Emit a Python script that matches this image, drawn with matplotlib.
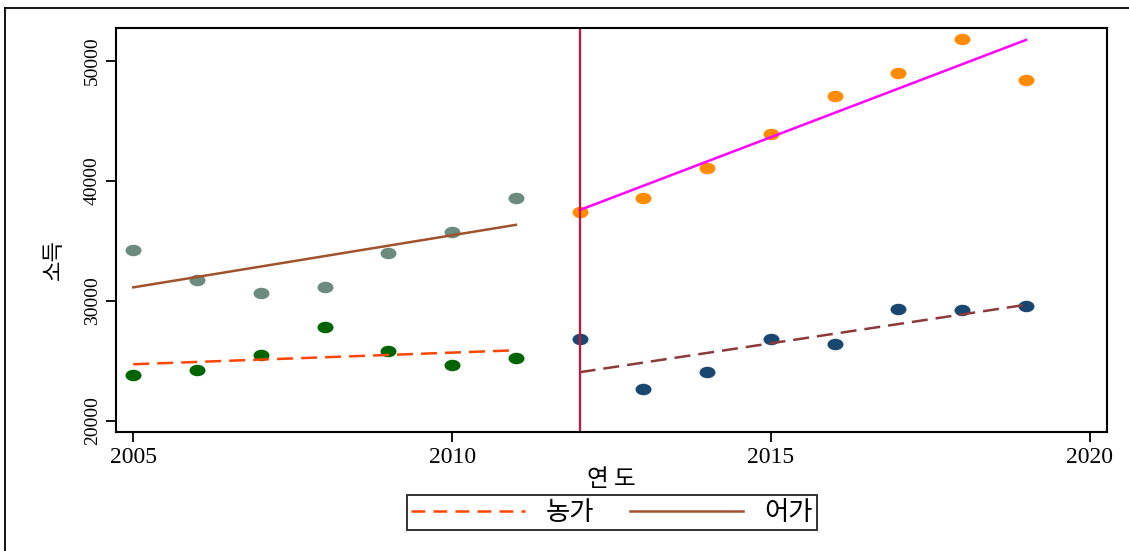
import numpy as np
import matplotlib.pyplot as plt
from matplotlib.path import Path
from matplotlib.transforms import Affine2D
from matplotlib.lines import Line2D

# yearly income, split at the 2012 cutoff
years_pre = [2005, 2006, 2007, 2008, 2009, 2010, 2011]
years_post = [2012, 2013, 2014, 2015, 2016, 2017, 2018, 2019]

fish_pre = [34250, 31750, 30670, 31170, 34000, 35750, 38580]
farm_pre = [23830, 24250, 25500, 27830, 25830, 24670, 25250]
fish_post = [37420, 38580, 41080, 43920, 47080, 49000, 51830, 48420]
farm_post = [26830, 22670, 24080, 26830, 26420, 29330, 29250, 29580]

cutoff = 2012
xticks = [2005, 2010, 2015, 2020]
yticks = [20000, 30000, 40000, 50000]

kr = 'Noto Sans CJK KR'
serif = 'Liberation Serif'

# slightly flattened dots
ellipse = Path.unit_circle().transformed(Affine2D().scale(1.0, 0.72))

fig = plt.figure(figsize=(11.29, 5.51), dpi=100)
ax = fig.add_axes([116 / 1129, 1 - 432 / 551, 991 / 1129, 404 / 551])

ax.plot(years_pre, fish_pre, ls='none', marker=ellipse, ms=11.5, color='#6c8a7e', mec='none')
ax.plot(years_pre, farm_pre, ls='none', marker=ellipse, ms=11.5, color='#006400', mec='none')
ax.plot(years_post, fish_post, ls='none', marker=ellipse, ms=11.5, color='#ff8c00', mec='none')
ax.plot(years_post, farm_post, ls='none', marker=ellipse, ms=11.5, color='#1a476f', mec='none')


def fit(x, y):
    x = np.asarray(x, dtype=float)
    b, a = np.polyfit(x, y, 1)
    ends = np.array([x.min(), x.max()])
    return ends, a + b * ends


lw = 1.8
x, y = fit(years_pre, farm_pre)
ax.plot(x, y, color='#ff4500', lw=lw, dashes=(6.4, 3.2))
x, y = fit(years_pre, fish_pre)
ax.plot(x, y, color='#a0522d', lw=lw)
x, y = fit(years_post, fish_post)
ax.plot(x, y, color='#ff00ff', lw=lw)
x, y = fit(years_post, farm_post)
ax.plot(x, y, color='#8b3a3a', lw=lw, dashes=(6.4, 3.2))

ax.axvline(cutoff, color='#c8143c', lw=1.6)

ax.set_xlim(2004.73, 2020.27)
ax.set_ylim(19080, 52750)
ax.set_xticks(xticks)
ax.set_yticks(yticks)
ax.set_xticklabels([str(t) for t in xticks], family=serif, fontsize=17)
ax.set_yticklabels([str(t) for t in yticks], family=serif, fontsize=14,
                   rotation=90, va='center')
ax.tick_params(direction='out', length=7, width=1.3, colors='black', pad=4)
for s in ax.spines.values():
    s.set_linewidth(1.5)

ax.set_xlabel('연 도', family=kr, fontsize=17, labelpad=0)
ax.set_ylabel('소득', family=kr, fontsize=16)
ax.yaxis.set_label_coords(-0.052, 0.426)

handles = [Line2D([], [], color='#ff4500', lw=lw, dashes=(5.5, 3.3)),
           Line2D([], [], color='#a0522d', lw=lw)]
leg = fig.legend(handles, ['농가', '어가'], loc='center', ncol=2,
                 bbox_to_anchor=(612 / 1129, 1 - 512.5 / 551),
                 prop={'family': kr, 'size': 19}, frameon=True, fancybox=False,
                 handlelength=4.3, handletextpad=0.8, columnspacing=1.35,
                 borderpad=0.15, borderaxespad=0)
leg.get_frame().set_edgecolor('black')
leg.get_frame().set_linewidth(1.4)

# outer graph border
fig.add_artist(Line2D([5 / 1129, 5 / 1129], [0, 1 - 8 / 551], color='black', lw=1.3,
                      transform=fig.transFigure))
fig.add_artist(Line2D([5 / 1129, 1], [1 - 8 / 551, 1 - 8 / 551], color='black', lw=1.3,
                      transform=fig.transFigure))

fig.savefig('out.png', dpi=100)
